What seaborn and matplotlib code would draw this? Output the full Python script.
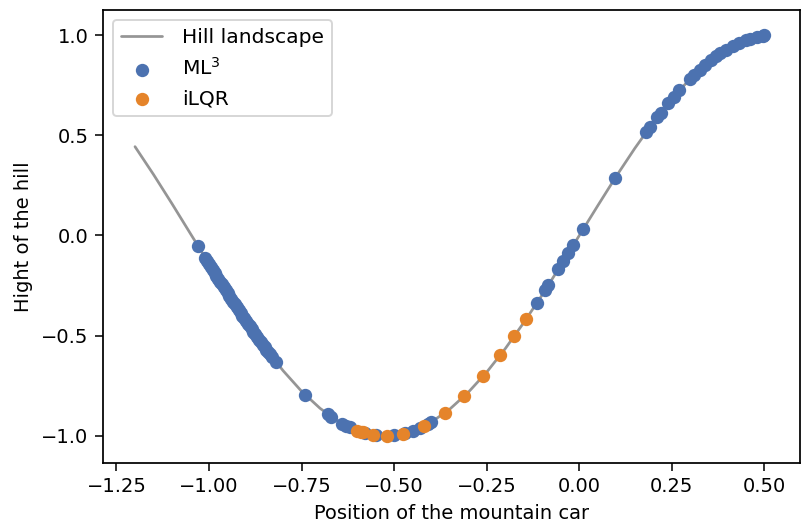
import matplotlib
matplotlib.use('Agg')
from matplotlib import pyplot as plt
import seaborn as sns
import pandas as pd

# hill landscape
hill_x = [-1.20, -1.15, -1.10, -1.05, -1.00, -0.95, -0.90, -0.85, -0.80, -0.75,
          -0.70, -0.65, -0.60, -0.55, -0.525, -0.50, -0.45, -0.40, -0.35, -0.30,
          -0.25, -0.20, -0.15, -0.10, -0.05, 0.00, 0.05, 0.10, 0.15, 0.20,
          0.25, 0.30, 0.35, 0.40, 0.45, 0.50]
hill_y = [0.443, 0.304, 0.158, 0.008, -0.141, -0.287, -0.427, -0.558, -0.675, -0.778,
          -0.863, -0.929, -0.974, -0.997, -1.000, -0.997, -0.976, -0.932, -0.867, -0.783,
          -0.682, -0.565, -0.435, -0.296, -0.149, 0.000, 0.149, 0.296, 0.435, 0.565,
          0.682, 0.783, 0.867, 0.932, 0.976, 0.997]

# ML3 trajectory
ml3_x = [-1.03, -1.01, -1.005, -1.00, -0.995, -0.99, -0.985, -0.98, -0.975, -0.97,
         -0.965, -0.96, -0.955, -0.95, -0.945, -0.94, -0.935, -0.93, -0.925, -0.92,
         -0.915, -0.91, -0.905, -0.90, -0.895, -0.89, -0.885, -0.88, -0.875, -0.87,
         -0.865, -0.86, -0.855, -0.85, -0.845, -0.84, -0.835, -0.83,
         -0.82, -0.74, -0.68, -0.67, -0.64, -0.63, -0.62, -0.58, -0.55, -0.50,
         -0.47, -0.45, -0.43, -0.41, -0.40,
         -0.114, -0.092, -0.084, -0.057, -0.043, -0.030, -0.016, 0.011,
         0.097, 0.18, 0.19, 0.21, 0.22, 0.24, 0.255, 0.27, 0.30, 0.31, 0.325,
         0.34, 0.355, 0.37, 0.38, 0.395, 0.415, 0.43, 0.45, 0.46, 0.48, 0.495, 0.50]
ml3_y = [-0.052, -0.111, -0.126, -0.141, -0.156, -0.171, -0.186, -0.200, -0.215, -0.230,
         -0.244, -0.259, -0.273, -0.287, -0.302, -0.316, -0.330, -0.344, -0.358, -0.372,
         -0.386, -0.400, -0.414, -0.427, -0.441, -0.454, -0.468, -0.481, -0.494, -0.507,
         -0.520, -0.533, -0.545, -0.558, -0.570, -0.582, -0.594, -0.606,
         -0.630, -0.797, -0.892, -0.905, -0.940, -0.950, -0.958, -0.986, -0.997, -0.997,
         -0.987, -0.976, -0.961, -0.942, -0.932,
         -0.335, -0.272, -0.249, -0.169, -0.129, -0.090, -0.048, 0.033,
         0.286, 0.514, 0.540, 0.589, 0.613, 0.659, 0.693, 0.724, 0.783, 0.802, 0.828,
         0.852, 0.875, 0.896, 0.909, 0.927, 0.947, 0.961, 0.976, 0.982, 0.991, 0.996, 0.998]

# iLQR trajectory
ilqr_x = [-0.60, -0.59, -0.585, -0.557, -0.52, -0.476, -0.42, -0.362, -0.311,
          -0.259, -0.2135, -0.176, -0.143]
ilqr_y = [-0.974, -0.980, -0.983, -0.995, -1.000, -0.990, -0.952, -0.885, -0.803,
          -0.701, -0.597, -0.503, -0.417]


def PlotAll(outfile):
    sns.set_style('ticks')
    plt.rcParams['font.family'] = ['DejaVu Sans']
    plt.rcParams['font.size'] = 10
    plt.rcParams['text.color'] = 'black'
    plt.rcParams['axes.labelcolor'] = 'black'
    fig, axe = plt.subplots(figsize=(806 / 140.0, 526 / 140.0), dpi=140)
    fig.subplots_adjust(left=0.128, right=0.993, top=0.981, bottom=0.120)

    pd_hill = pd.DataFrame({'x': hill_x, 'y': hill_y})
    pd_ml3 = pd.DataFrame({'x': ml3_x, 'y': ml3_y})
    pd_ilqr = pd.DataFrame({'x': ilqr_x, 'y': ilqr_y})

    sns.lineplot(data=pd_hill, x='x', y='y', ax=axe, color='#959595',
                 linewidth=1.4, sort=False, label='Hill landscape')
    sns.scatterplot(data=pd_ml3, x='x', y='y', ax=axe, color='#4C72B0',
                    s=47, linewidth=0, label='ML$^3$', zorder=3)
    sns.scatterplot(data=pd_ilqr, x='x', y='y', ax=axe, color='#E5842A',
                    s=47, linewidth=0, label='iLQR', zorder=4)

    axe.set_xlim(-1.286, 0.597)
    axe.set_ylim(-1.135, 1.125)
    axe.set_xticks([-1.25, -1.00, -0.75, -0.50, -0.25, 0.00, 0.25, 0.50])
    axe.set_yticks([-1.0, -0.5, 0.0, 0.5, 1.0])
    axe.set_xlabel('Position of the mountain car', size=10)
    axe.set_ylabel('Hight of the hill', size=10)
    plt.setp(axe.spines.values(), linewidth=0.9, color='black')
    axe.tick_params(labelsize=10, colors='black', length=4, width=0.8)
    leg = axe.legend(loc='upper left', frameon=True, fontsize=10.4,
                     handletextpad=1.0)
    leg.get_frame().set_edgecolor('#cccccc')
    plt.savefig(outfile, dpi=140)


if __name__ == '__main__':
    PlotAll('out.png')
